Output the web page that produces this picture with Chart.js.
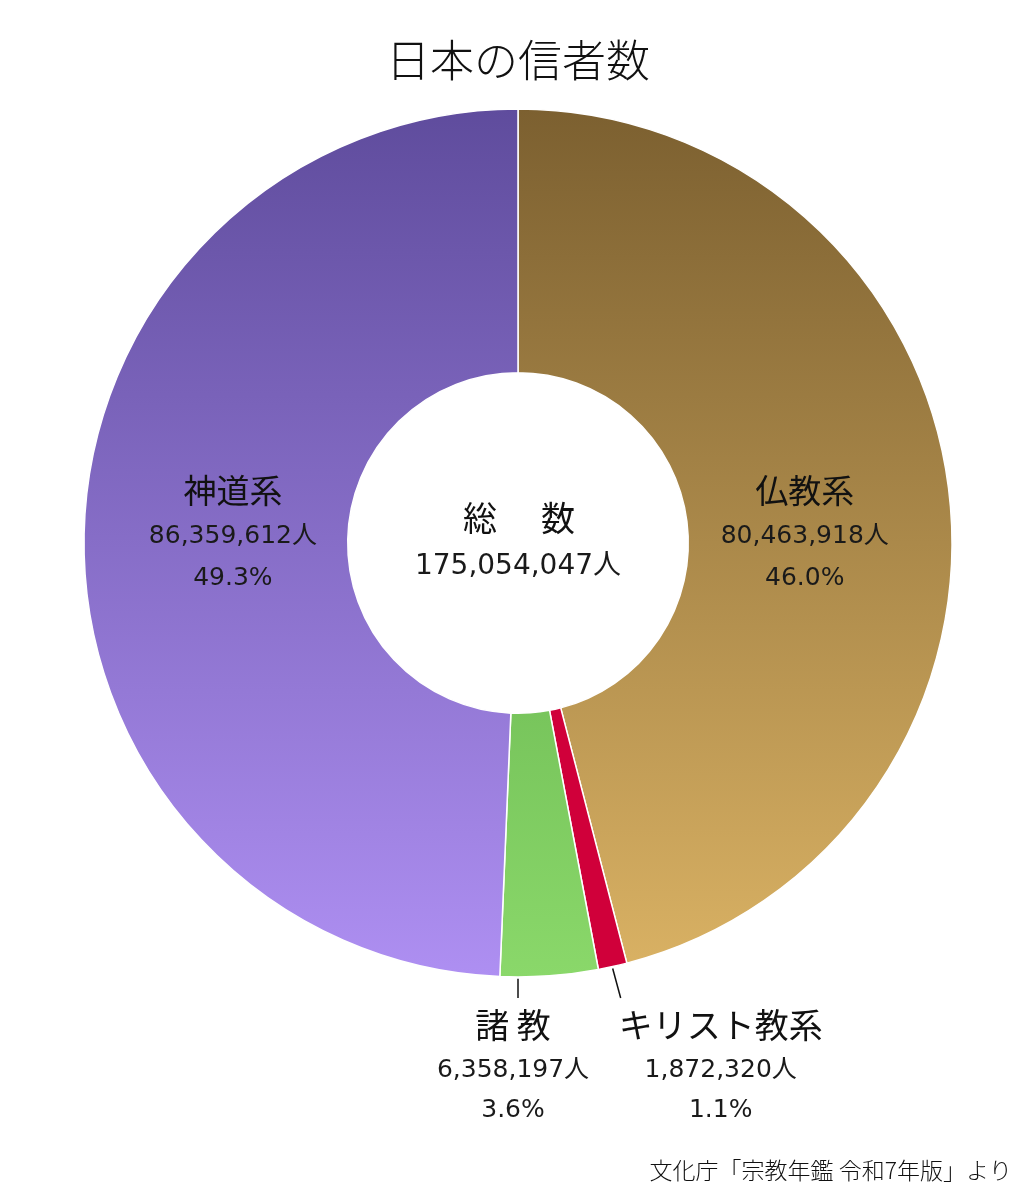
<!DOCTYPE html>
<html>
<head>
<meta charset="utf-8">
<script src="https://cdn.jsdelivr.net/npm/chart.js@4.4.1/dist/chart.umd.min.js"></script>
<style>
html,body{margin:0;padding:0;background:#fff;}
#wrap{width:1036px;height:1200px;position:relative;}
</style>
</head>
<body>
<div id="wrap"><canvas id="c" width="1036" height="1200"></canvas></div>
<script>
const categories = ['仏教系', 'キリスト教系', '諸教', '神道系'];
const displayNames = ['仏教系', 'キリスト教系', '諸 教', '神道系'];
const believers = [80463918, 1872320, 6358197, 86359612];
const percents = ['46.0%', '1.1%', '3.6%', '49.3%'];
const totalLabel = ['総', '数'];
const totalValue = 175054047;
const titleText = '日本の信者数';
const sourceText = '文化庁「宗教年鑑 令和7年版」より';

const gradStops = [
  ['#7c6030', '#dab264'],
  ['#d0003a', '#d0003a'],
  ['#4f9a3c', '#8ad86a'],
  ['#5f4c9d', '#ae8ff2']
];

const CJK = '"Noto Sans CJK JP", "Noto Sans", sans-serif';
const NUM = '"DejaVu Sans", "Noto Sans CJK JP", sans-serif';
const fmt = n => n.toLocaleString('en-US');

function bg(ctx) {
  const chart = ctx.chart;
  const a = chart.chartArea;
  if (!a) return gradStops[ctx.dataIndex][0];
  const g = chart.ctx.createLinearGradient(0, a.top, 0, a.bottom);
  g.addColorStop(0, gradStops[ctx.dataIndex][0]);
  g.addColorStop(1, gradStops[ctx.dataIndex][1]);
  return g;
}

const labelPlugin = {
  id: 'labels',
  afterDraw(chart) {
    const ctx = chart.ctx;
    const meta = chart.getDatasetMeta(0);
    const arc0 = meta.data[0];
    const cx = arc0.x, cy = arc0.y;
    const R = arc0.outerRadius;
    ctx.save();
    ctx.fillStyle = '#111';
    ctx.textAlign = 'center';
    ctx.textBaseline = 'middle';
    // title
    ctx.font = '300 44px ' + CJK;
    ctx.fillText(titleText, cx, 60);
    // center
    ctx.font = '400 34px ' + CJK;
    ctx.fillText(totalLabel[0], cx - 38, cy - 25);
    ctx.fillText(totalLabel[1], cx + 40, cy - 25);
    ctx.fillStyle = '#1a1a1a';
    ctx.font = '400 28px ' + NUM;
    ctx.fillText(fmt(totalValue) + '人', cx, cy + 24);

    meta.data.forEach((arc, i) => {
      const mid = (arc.startAngle + arc.endAngle) / 2;
      let x;
      if (i === 0 || i === 3) {
        const r = (arc.innerRadius + arc.outerRadius) / 2;
        x = cx + Math.cos(mid) * r + (i === 0 ? -13 : 17);
        const y = cy - 7;
        ctx.fillStyle = '#111';
        ctx.font = '400 33px ' + CJK;
        ctx.fillText(displayNames[i], x, y - 46);
        ctx.fillStyle = '#1a1a1a';
        ctx.font = '400 25px ' + NUM;
        ctx.fillText(fmt(believers[i]) + '人', x, y);
        ctx.fillText(percents[i], x, y + 42);
      } else {
        const px = cx + Math.cos(mid) * R;
        const py = cy + Math.sin(mid) * R;
        ctx.strokeStyle = '#111';
        ctx.lineWidth = 1.5;
        ctx.beginPath();
        if (i === 2) {
          ctx.moveTo(cx, py + 3);
          ctx.lineTo(cx, 998);
          x = cx - 5;
        } else {
          ctx.moveTo(px, py + 2);
          ctx.lineTo(px + 8, 998);
          x = px + 108;
        }
        ctx.stroke();
        ctx.fillStyle = '#111';
        ctx.font = '400 34px ' + CJK;
        ctx.fillText(displayNames[i], x, 1025);
        ctx.fillStyle = '#1a1a1a';
        ctx.font = '400 25px ' + NUM;
        ctx.fillText(fmt(believers[i]) + '人', x, 1070);
        ctx.fillText(percents[i], x, 1110);
      }
    });
    // source
    ctx.fillStyle = '#111';
    ctx.textAlign = 'right';
    ctx.font = '300 23px ' + CJK;
    ctx.fillText(sourceText, 1012, 1170);
    ctx.restore();
  }
};

new Chart(document.getElementById('c'), {
  type: 'doughnut',
  data: {
    labels: categories,
    datasets: [{
      data: believers,
      backgroundColor: bg,
      borderColor: '#ffffff',
      borderWidth: 1.5
    }]
  },
  options: {
    responsive: false,
    animation: false,
    cutout: 170,
    radius: 434,
    layout: { padding: { left: 84, right: 84, top: 109, bottom: 223 } },
    plugins: { legend: { display: false }, tooltip: { enabled: false } }
  },
  plugins: [labelPlugin]
});
</script>
</body>
</html>
